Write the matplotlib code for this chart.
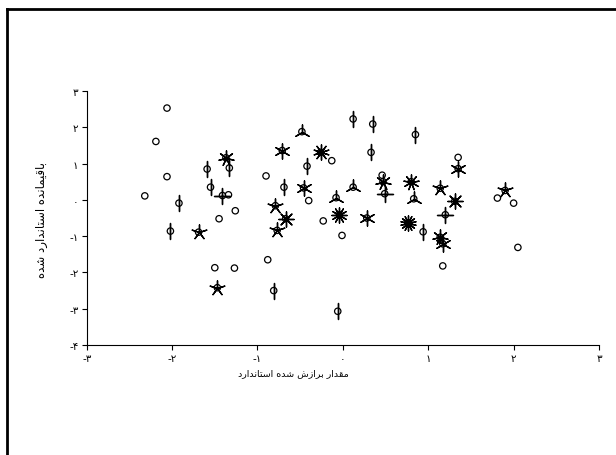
import numpy as np
from matplotlib import pyplot as plt
from matplotlib.lines import Line2D

################################################################################
### Data (standardized fitted vs residual)
################################################################################
fitted = [-2.06, -2.19, -2.06, -2.32, -1.34, -1.26, -0.90, -0.13, -0.40, -1.45,
          -0.23, -0.01, -1.50, -1.27, -0.88, 1.17, 2.05, 1.35, 0.46, 1.81, 2.00,
          -1.92, -1.59, -1.55, -1.33, -0.42, -0.69, -2.02, -0.81, 0.94, -0.06,
          0.12, 0.35, 0.85, 0.33,
          -0.48, -0.08, 0.12, 0.83,
          -1.41, 0.49, 1.20,
          -1.37, -0.71, -0.26, -0.46, -0.79, -1.69, -0.77, -0.67, -0.04, 0.28,
          0.76, 1.14, 1.17, -1.47, 1.35, 0.47, 0.80, 1.14, 1.31, 1.90]
residual = [2.53, 1.61, 0.64, 0.11, 0.14, -0.30, 0.66, 1.08, -0.02, -0.52,
            -0.58, -0.98, -1.87, -1.88, -1.65, -1.82, -1.31, 1.17, 0.68, 0.05, -0.09,
            -0.09, 0.85, 0.35, 0.88, 0.93, 0.35, -0.86, -2.50, -0.88, -3.07,
            2.23, 2.09, 1.80, 1.31,
            1.88, 0.06, 0.35, 0.03,
            0.12, 0.17, -0.41,
            1.16, 1.36, 1.31, 0.33, -0.16, -0.89, -0.84, -0.52, -0.41, -0.50,
            -0.63, -1.03, -1.21, -2.42, 0.86, 0.50, 0.50, 0.32, -0.04, 0.26]
counts = [1] * 21 + [2] * 14 + [3] * 4 + [4] * 3 + \
         [7, 6, 10, 6, 5, 5, 5, 8, 12, 6, 14, 7, 6, 5, 6, 7, 9, 5, 8, 5]

x_ticks = [-3, -2, -1, 0, 1, 2, 3]
y_ticks = [-4, -3, -2, -1, 0, 1, 2, 3]
x_title = 'مقدار برازش شده استاندارد'
y_title = 'باقیمانده استاندارد شده'

################################################################################
### Minimal Persian shaping (matplotlib has no bidi / joining)
################################################################################
FORMS = {
    'ا': ('\uFE8D', '\uFE8E', None, None),
    'ب': ('\uFE8F', '\uFE90', '\uFE91', '\uFE92'),
    'ت': ('\uFE95', '\uFE96', '\uFE97', '\uFE98'),
    'د': ('\uFEA9', '\uFEAA', None, None),
    'ر': ('\uFEAD', '\uFEAE', None, None),
    'ز': ('\uFEAF', '\uFEB0', None, None),
    'س': ('\uFEB1', '\uFEB2', '\uFEB3', '\uFEB4'),
    'ش': ('\uFEB5', '\uFEB6', '\uFEB7', '\uFEB8'),
    'ق': ('\uFED5', '\uFED6', '\uFED7', '\uFED8'),
    'م': ('\uFEE1', '\uFEE2', '\uFEE3', '\uFEE4'),
    'ن': ('\uFEE5', '\uFEE6', '\uFEE7', '\uFEE8'),
    'ه': ('\uFEE9', '\uFEEA', '\uFEEB', '\uFEEC'),
    'ی': ('\uFBFC', '\uFBFD', '\uFEF3', '\uFEF4'),
}
RIGHT_ONLY = set('ادرز')


def shape(text):
    out = []
    for i, ch in enumerate(text):
        if ch not in FORMS:
            out.append(ch)
            continue
        prev = text[i - 1] if i > 0 else None
        nxt = text[i + 1] if i + 1 < len(text) else None
        join_prev = prev in FORMS and prev not in RIGHT_ONLY
        join_next = nxt in FORMS and ch not in RIGHT_ONLY
        iso, fin, ini, med = FORMS[ch]
        if join_prev and join_next:
            out.append(med)
        elif join_prev:
            out.append(fin)
        elif join_next:
            out.append(ini)
        else:
            out.append(iso)
    return ''.join(out)[::-1]


def fa_num(v):
    digits = '۰۱۲۳۴۵۶۷۸۹'
    s = ''.join(digits[int(c)] for c in str(abs(v)))
    return ('-' + s) if v < 0 else s


################################################################################
### Figure
################################################################################
plt.rcParams['font.family'] = ['DejaVu Sans']
fig = plt.figure(figsize=(6.16, 4.56), dpi=100)
ax = fig.add_axes([0.1408, 0.2412, 0.9724 - 0.1408, 0.7982 - 0.2412])

x = np.array(fitted)
y = np.array(residual)
c = np.array(counts)

# center circles
ax.scatter(x, y, s=21, facecolors='none', edgecolors='black', linewidths=0.9, zorder=3)
# sunflower petals
for k in sorted(set(counts)):
    if k < 2:
        continue
    m = c == k
    ax.scatter(x[m], y[m], s=120, marker=(k, 2, 0), color='black',
               linewidths=1.0, zorder=4)

ax.set_xlim(-3, 3)
ax.set_ylim(-4, 3)
ax.set_xticks(x_ticks)
ax.set_xticklabels([fa_num(v) for v in x_ticks])
ax.set_yticks(y_ticks)
ax.set_yticklabels([fa_num(v) for v in y_ticks])
ax.tick_params(axis='both', length=3.5, width=0.8, labelsize=7.5, pad=2.5)
ax.spines['top'].set_visible(False)
ax.spines['right'].set_visible(False)
ax.spines['left'].set_linewidth(0.8)
ax.spines['bottom'].set_linewidth(0.8)

fig.text(293 / 616, 1 - 374 / 456, shape(x_title), ha='center', va='center', fontsize=6.8)
fig.text(42 / 616, 1 - 220 / 456, shape(y_title), ha='center', va='center',
         rotation=90, fontsize=8.5)

# page frame (top and left edges)
fig.add_artist(Line2D([7 / 616, 1.0], [1 - 10 / 456, 1 - 10 / 456], color='black',
                      linewidth=2, transform=fig.transFigure))
fig.add_artist(Line2D([7 / 616, 7 / 616], [1 - 10 / 456, 0.0], color='black',
                      linewidth=2, transform=fig.transFigure))

fig.savefig('out.png', dpi=100)
